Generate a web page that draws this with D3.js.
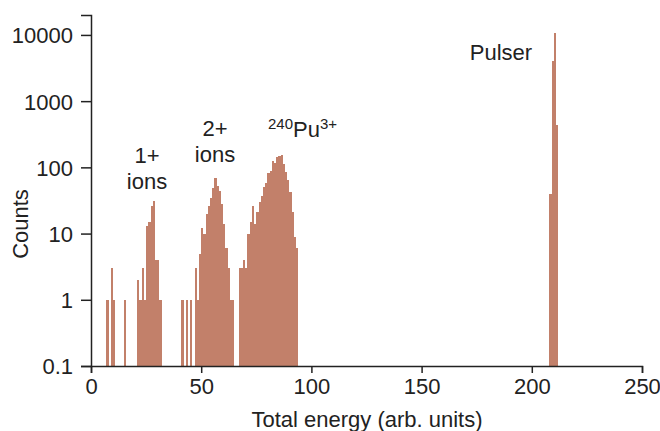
<!DOCTYPE html>
<html>
<head>
<meta charset="utf-8">
<script src="https://cdn.jsdelivr.net/npm/d3@7"></script>
<style>
  body { margin: 0; background: #fff; }
  text { font-family: "Liberation Sans", Arial, sans-serif; fill: #222; }
</style>
</head>
<body>
<div id="chart"></div>
<script>
// histogram bins (1 unit wide)
const energy = [7, 9, 10, 15,
  21, 22, 23, 24, 25, 26, 27, 28, 29, 30, 31,
  41, 43, 45, 47, 48, 49, 50, 51, 52, 53, 54, 55, 56, 57, 58, 59, 60, 61, 62, 63, 64,
  67, 68, 69, 70, 71, 72, 73, 74, 75, 76, 77, 78, 79, 80, 81, 82, 83, 84, 85, 86, 87, 88, 89, 90, 91, 92, 93,
  208, 209, 210, 211];
const counts = [1, 3, 1, 1,
  2, 1, 3, 1, 13, 15, 26, 31, 4, 4, 1,
  1, 1, 1, 3, 1, 5, 12, 10, 20, 26, 34, 48, 70, 53, 44, 28, 14, 6, 3, 1, 1,
  3, 3, 4, 3, 10, 15, 26, 14, 21, 30, 37, 51, 58, 82, 89, 126, 116, 141, 146, 153, 112, 84, 64, 43, 21, 9, 6,
  40, 4000, 10700, 440];
const xTicks = [0, 50, 100, 150, 200, 250];
const yTicks = [0.1, 1, 10, 100, 1000, 10000];

const width = 660, height = 431;
const barColor = "#c2806a";
const fs = "22px";

const svg = d3.select("#chart").append("svg")
  .attr("width", width)
  .attr("height", height);

const x = d3.scaleLinear().domain([0, 250]).range([91, 642]);
const y = d3.scaleLog().domain([0.1, 20000]).range([366, 15]);

const bins = energy.map((e, i) => ({ e: e, c: counts[i] }));

svg.append("g")
  .attr("shape-rendering", "crispEdges")
  .selectAll("rect")
  .data(bins)
  .enter().append("rect")
  .attr("x", d => x(d.e))
  .attr("width", d => x(d.e + 1) - x(d.e))
  .attr("y", d => y(d.c))
  .attr("height", d => y(0.1) - y(d.c))
  .attr("fill", barColor);

// axes
const xAxis = svg.append("g")
  .attr("transform", "translate(0,366)")
  .call(d3.axisBottom(x).tickValues(xTicks).tickSize(7).tickPadding(5).tickFormat(d3.format("d")));
const yAxis = svg.append("g")
  .attr("transform", "translate(91,0)")
  .call(d3.axisLeft(y).tickValues(yTicks).tickSize(10).tickPadding(8)
    .tickFormat(d => d < 1 ? "0.1" : d3.format("d")(d)));

[xAxis, yAxis].forEach(a => {
  a.select(".domain").attr("stroke", "#222").attr("stroke-width", 1.5);
  a.selectAll(".tick line").attr("stroke", "#222").attr("stroke-width", 1.5);
  a.selectAll(".tick text").style("font-size", fs).attr("fill", "#222");
});
yAxis.selectAll(".tick text").attr("dy", "0.36em");

// axis titles
svg.append("text")
  .attr("x", 367).attr("y", 427)
  .attr("text-anchor", "middle")
  .style("font-size", fs)
  .text("Total energy (arb. units)");

svg.append("text")
  .attr("transform", "translate(28,224) rotate(-90)")
  .attr("text-anchor", "middle")
  .style("font-size", fs)
  .text("Counts");

// peak labels
const lab = (tx, ty, s) => svg.append("text")
  .attr("x", tx).attr("y", ty)
  .attr("text-anchor", "middle")
  .style("font-size", fs)
  .text(s);

lab(147, 163, "1+");
lab(147, 189, "ions");
lab(215, 136, "2+");
lab(215, 162, "ions");
lab(501, 60, "Pulser");

const pu = svg.append("text")
  .attr("x", 268).attr("y", 137)
  .style("font-size", fs);
pu.append("tspan").attr("dy", -8).style("font-size", "15px").text("240");
pu.append("tspan").attr("dy", 8).text("Pu");
pu.append("tspan").attr("dy", -8).style("font-size", "15px").text("3+");
</script>
</body>
</html>
